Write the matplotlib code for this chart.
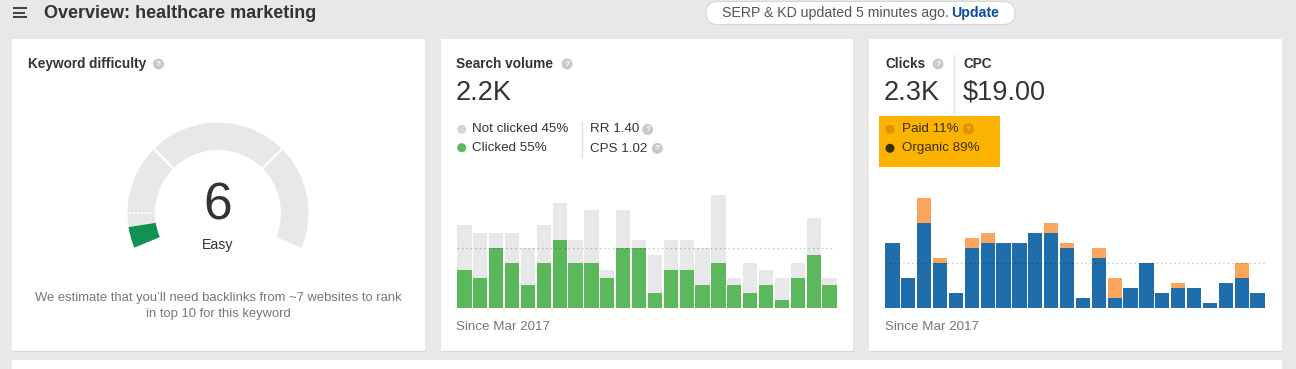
import numpy as np
import matplotlib
matplotlib.use("Agg")
import matplotlib.pyplot as plt
from matplotlib.patches import Rectangle, Wedge, Circle, FancyBboxPatch

plt.rcParams['font.family'] = ['Liberation Sans', 'DejaVu Sans']

# ---------------- data ----------------
kd_value = 6
kd_label = "Easy"
kd_bounds = [0, 10, 30, 70, 100]

search_volume = "2.2K"
sv_clicked = [5, 4, 8, 6, 3, 6, 9, 6, 6, 4, 8, 8, 2, 5, 5, 3, 6, 3, 2, 3, 1, 4, 7, 3]
sv_not_clicked = [6, 6, 2, 4, 5, 5, 5, 3, 7, 1, 5, 1, 5, 4, 4, 5, 9, 1, 4, 2, 3, 2, 5, 1]
sv_ref = 8

clicks = "2.3K"
cpc = "$19.00"
cl_organic = [13, 6, 17, 9, 3, 12, 13, 13, 13, 15, 15, 12, 2, 10, 2, 4, 9, 3, 4, 4, 1, 5, 6, 3]
cl_paid = [0, 0, 5, 1, 0, 2, 2, 0, 0, 0, 2, 1, 0, 2, 4, 0, 0, 0, 1, 0, 0, 0, 3, 0]
cl_ref = 9

W, H = 1296, 369
BG = '#e8e8ea'
fig = plt.figure(figsize=(W / 100, H / 100), dpi=100)
fig.patch.set_facecolor(BG)
ax = fig.add_axes([0, 0, 1, 1])
ax.set_xlim(0, W)
ax.set_ylim(H, 0)
ax.axis('off')

DARK = '#333333'
GREY = '#777777'

def qicon(x, y, fc='#c9c9c9', tc='white', r=5.5):
    ax.add_patch(Circle((x, y), r, facecolor=fc, edgecolor='none', zorder=5))
    ax.text(x, y + 0.3, '?', fontsize=6, color=tc, ha='center', va='center',
            fontweight='bold', zorder=6)

# ---------------- header ----------------
for yy, x2 in [(8.3, 27), (12.5, 24.5), (16.7, 27)]:
    ax.plot([12.5, x2], [yy, yy], color=DARK, lw=1.3, solid_capstyle='butt')
ax.text(44, 13.5, 'Overview: healthcare marketing', fontsize=13, fontweight='bold',
        color=DARK, ha='left', va='center')

pill = FancyBboxPatch((706, 1.5), 309, 23, boxstyle='round,pad=0,rounding_size=11.5',
                      facecolor='white', edgecolor='#d6d6d8', lw=0.8)
ax.add_patch(pill)
ax.text(722, 12.8, 'SERP & KD updated 5 minutes ago.', fontsize=10.2, color='#555555',
        ha='left', va='center')
ax.text(951, 12.8, 'Update', fontsize=10.2, color='#0b4ea2', fontweight='bold',
        ha='left', va='center')

# ---------------- panels ----------------
for x0, x1 in [(12, 425), (441, 853), (869, 1282)]:
    ax.add_patch(Rectangle((x0, 39), x1 - x0, 312, facecolor='white', edgecolor='none'))
    ax.plot([x0, x1], [351, 351], color='#d9d9db', lw=0.8)
ax.add_patch(Rectangle((12, 360), 1270, 12, facecolor='white', edgecolor='none'))

# ---------------- panel 1: keyword difficulty ----------------
ax.text(28, 64, 'Keyword difficulty', fontsize=9.8, fontweight='bold', color=DARK,
        ha='left', va='center')
qicon(158.5, 64)

cx, cy, R, r_in = 218, 213, 90.5, 63
def scr_angle(v):
    return 202.5 - 2.25 * v
ax.add_patch(Wedge((cx, cy), R, -scr_angle(kd_bounds[0]), -scr_angle(kd_bounds[-1]),
                   width=R - r_in, facecolor='#e8e8ea', edgecolor='none'))
ax.add_patch(Wedge((cx, cy), R, -scr_angle(0), -scr_angle(kd_value),
                   width=R - r_in, facecolor='#0f914f', edgecolor='none', zorder=3))
for i, b in enumerate(kd_bounds[1:-1]):
    a = np.deg2rad(scr_angle(b))
    xs = [cx + (r_in - 1) * np.cos(a), cx + (R + 1) * np.cos(a)]
    ys = [cy - (r_in - 1) * np.sin(a), cy - (R + 1) * np.sin(a)]
    ax.plot(xs, ys, color='white', lw=1.6 if i else 1.2,
            linestyle=(0, (1.5, 1)) if i == 0 else '-', zorder=4)
ax.text(217.5, 206, str(kd_value), fontsize=37, color=DARK, ha='center', va='center')
ax.text(218, 245, kd_label, fontsize=10.2, color=DARK, ha='center', va='center')
ax.text(218, 298, 'We estimate that you\u2019ll need backlinks from ~7 websites to rank',
        fontsize=9.4, color=GREY, ha='center', va='center')
ax.text(218, 313.5, 'in top 10 for this keyword', fontsize=9.4, color=GREY,
        ha='center', va='center')

# ---------------- panel 2: search volume ----------------
ax.text(456.5, 64, 'Search volume', fontsize=9.8, fontweight='bold', color=DARK,
        ha='left', va='center')
qicon(567, 64)
ax.text(455.5, 93, search_volume, fontsize=19.5, color=DARK, ha='left', va='center')
ax.add_patch(Circle((461.7, 129.3), 4.5, facecolor='#d4d4d4', edgecolor='none'))
ax.add_patch(Circle((461.7, 147.7), 4.5, facecolor='#5cb85c', edgecolor='none'))
ax.text(472.5, 129.5, 'Not clicked 45%', fontsize=9.6, color=DARK, ha='left', va='center')
ax.text(472.5, 148, 'Clicked 55%', fontsize=9.6, color=DARK, ha='left', va='center')
ax.plot([581.7, 581.7], [122, 157], color='#e2e2e2', lw=1)
ax.text(590.5, 129.5, 'RR 1.40', fontsize=9.6, color=DARK, ha='left', va='center')
ax.text(590.5, 148.5, 'CPS 1.02', fontsize=9.6, color=DARK, ha='left', va='center')
qicon(647.7, 129.5)
qicon(657.3, 148.5)
ax.text(456, 327, 'Since Mar 2017', fontsize=9.6, color=GREY, ha='left', va='center')

# ---------------- panel 3: clicks / cpc ----------------
ax.text(885, 64, 'Clicks', fontsize=9.8, fontweight='bold', color=DARK, ha='left', va='center')
qicon(938, 64)
ax.plot([954.3, 954.3], [55, 113], color='#e2e2e2', lw=1)
ax.text(964, 64, 'CPC', fontsize=9.8, fontweight='bold', color=DARK, ha='left', va='center')
ax.text(884, 93, clicks, fontsize=19.5, color=DARK, ha='left', va='center')
ax.text(963, 93, cpc, fontsize=19.5, color=DARK, ha='left', va='center')
ax.add_patch(Rectangle((879, 116), 121, 51, facecolor='#fbb200', edgecolor='none'))
ax.add_patch(Circle((890, 129.3), 4.5, facecolor='#df8f00', edgecolor='none'))
ax.add_patch(Circle((890, 148.3), 4.5, facecolor='#3b3100', edgecolor='none'))
ax.text(901.5, 129.5, 'Paid 11%', fontsize=9.6, color='#3b3100', ha='left', va='center')
ax.text(901.5, 148, 'Organic 89%', fontsize=9.6, color='#3b3100', ha='left', va='center')
qicon(968.5, 128.8, fc='#df9100', tc='#f7c14a')
ax.text(885, 327, 'Since Mar 2017', fontsize=9.6, color=GREY, ha='left', va='center')

# ---------------- bar charts ----------------
def px_axes(x0, x1, ytop, ybot):
    return fig.add_axes([x0 / W, 1 - ybot / H, (x1 - x0) / W, (ybot - ytop) / H])

def style(a):
    a.set_facecolor('none')
    a.axis('off')

n = len(sv_clicked)
idx = np.arange(n)

a2 = px_axes(456.5, 837.5, 187.7, 307.7)
style(a2)
a2.bar(idx, sv_clicked, width=0.9, color='#5cb85c', zorder=2)
a2.bar(idx, sv_not_clicked, bottom=sv_clicked, width=0.9, color='#e8e8e8', zorder=2)
a2.axhline(sv_ref, xmin=0.0, xmax=0.99, color='black', alpha=0.25, lw=1,
           linestyle=(0, (1, 2.2)), zorder=3)
a2.set_xlim(-0.5, n - 0.5)
a2.set_ylim(0, 16)

a3 = px_axes(884.5, 1265.5, 187.7, 307.7)
style(a3)
a3.bar(idx, cl_organic, width=0.9, color='#1f6dab', zorder=2)
a3.bar(idx, cl_paid, bottom=cl_organic, width=0.9, color='#fba55c', zorder=2)
a3.axhline(cl_ref, color='black', alpha=0.25, lw=1, linestyle=(0, (1, 2.2)), zorder=3)
a3.set_xlim(-0.5, n - 0.5)
a3.set_ylim(0, 24)

fig.savefig('out.png', dpi=100, facecolor=fig.get_facecolor())
